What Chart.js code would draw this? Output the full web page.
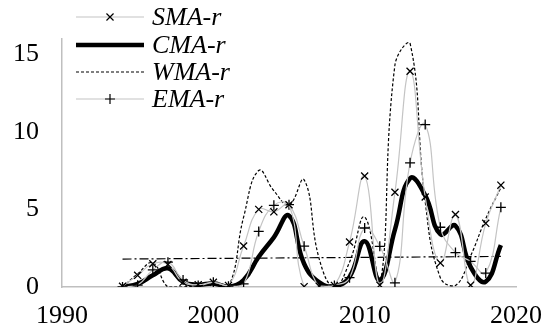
<!DOCTYPE html>
<html>
<head>
<meta charset="utf-8">
<script src="https://cdn.jsdelivr.net/npm/chart.js@4.4.1/dist/chart.umd.min.js"></script>
<style>
  body { margin: 0; background: #fff; }
  #wrap { width: 556px; height: 332px; }
</style>
</head>
<body>
<div id="wrap"><canvas id="maChart" width="556" height="332"></canvas></div>
<script>
// DATOS DE LA GRAFICA
const years = [1994, 1995, 1996, 1997, 1998, 1999, 2000, 2001, 2002, 2003, 2004, 2005, 2006,
               2007, 2008, 2009, 2010, 2011, 2012, 2013, 2014, 2015, 2016, 2017, 2018, 2019];
const smaR = [0.05, 0.75, 1.5, 1.45, 0.3, 0.15, 0.3, 0.1, 2.64, 5.0, 4.84, 5.3, 0.02,
              0.05, 0.1, 2.9, 7.15, 0.12, 6.1, 13.9, 5.8, 1.55, 4.67, 0.12, 4.1, 6.56];
const cmaR = [0.02, 0.2, 0.75, 1.2, 0.33, 0.15, 0.23, 0.02, 0.45, 1.95, 3.2, 4.6, 1.5,
              0.3, 0.05, 0.65, 2.95, 0.45, 3.7, 7.0, 5.9, 3.4, 3.95, 1.3, 0.35, 2.7];
const wmaR = [0.0, 0.85, 1.55, 0.0, 0.0, 0.1, 0.2, 0.0, 4.5, 7.5, 6.2, 5.3, 6.9,
              1.8, 0.0, 1.6, 4.5, 0.1, 14.3, 15.7, 5.5, 0.6, 0.1, 2.0, 4.4, 6.4];
const emaR = [0.0, 0.12, 1.1, 1.6, 0.45, 0.1, 0.3, 0.05, 0.2, 3.58, 5.26, 5.3, 2.63,
              0.0, 0.1, 0.6, 3.8, 2.62, 0.27, 8.0, 10.46, 3.85, 2.22, 1.65, 0.9, 5.13];
const trendYears = [1994, 2019];
const trendValues = [1.8, 1.97];
const seriesNames = ['SMA-r', 'CMA-r', 'WMA-r', 'EMA-r'];
const xTicks = [1990, 2000, 2010, 2020];
const yTicks = [0, 5, 10, 15];

const FONT = '"Liberation Serif", serif';
Chart.defaults.font.family = FONT;
Chart.defaults.font.size = 26;
Chart.defaults.color = '#000';

function toPoints(xs, ys) {
    return xs.map((x, i) => ({ x: x, y: ys[i] }));
}

// LEYENDA DIBUJADA DENTRO DEL AREA
const legendPlugin = {
    id: 'innerLegend',
    afterDraw(chart) {
        const ctx = chart.ctx;
        const rows = [17, 45, 72, 99];
        ctx.save();
        for (let i = 0; i < 4; i++) {
            const ds = chart.data.datasets[i];
            const y = rows[i];
            ctx.beginPath();
            ctx.strokeStyle = ds.borderColor;
            ctx.lineWidth = ds.borderWidth;
            ctx.setLineDash(ds.borderDash || []);
            ctx.moveTo(76, y);
            ctx.lineTo(144, y);
            ctx.stroke();
            ctx.setLineDash([]);
            if (ds.pointRadius > 0) {
                ctx.strokeStyle = '#000';
                Chart.helpers.drawPoint(ctx, {
                    pointStyle: ds.pointStyle,
                    radius: ds.pointRadius,
                    borderWidth: ds.pointBorderWidth
                }, 110, y);
            }
            ctx.font = 'italic 26px ' + FONT;
            ctx.fillStyle = '#000';
            ctx.textBaseline = 'middle';
            ctx.textAlign = 'left';
            ctx.fillText(seriesNames[i], 152, y + 1);
        }
        ctx.restore();
    }
};

const ctx = document.getElementById('maChart').getContext('2d');
const maChart = new Chart(ctx, {
    type: 'scatter',
    data: {
        datasets: [{
            label: seriesNames[0],
            data: toPoints(years, smaR),
            showLine: true,
            borderColor: '#c4c4c4',
            borderWidth: 1.2,
            tension: 0.45,
            pointStyle: 'crossRot',
            pointRadius: 5,
            pointBorderColor: '#000',
            pointBorderWidth: 1.3,
            order: 1
        }, {
            label: seriesNames[1],
            data: toPoints(years, cmaR),
            showLine: true,
            borderColor: '#000',
            borderWidth: 4.5,
            tension: 0.45,
            pointRadius: 0,
            order: 3
        }, {
            label: seriesNames[2],
            data: toPoints(years, wmaR),
            showLine: true,
            borderColor: '#000',
            borderWidth: 1.2,
            borderDash: [3, 2],
            tension: 0.45,
            pointRadius: 0,
            order: 4
        }, {
            label: seriesNames[3],
            data: toPoints(years, emaR),
            showLine: true,
            borderColor: '#c4c4c4',
            borderWidth: 1.2,
            tension: 0.45,
            pointStyle: 'cross',
            pointRadius: 5,
            pointBorderColor: '#000',
            pointBorderWidth: 1.3,
            order: 2
        }, {
            label: 'trend',
            data: toPoints(trendYears, trendValues),
            showLine: true,
            borderColor: '#000',
            borderWidth: 1.2,
            borderDash: [9, 3, 2, 3],
            pointRadius: 0,
            order: 5
        }]
    },
    options: {
        responsive: false,
        animation: false,
        layout: { padding: { top: 33, right: 34, left: 0, bottom: 0 } },
        plugins: {
            legend: { display: false },
            tooltip: { enabled: false }
        },
        scales: {
            x: {
                type: 'linear',
                min: xTicks[0],
                max: xTicks[xTicks.length - 1],
                grid: { display: false, drawTicks: false },
                border: { display: true, color: '#bfbfbf', width: 1.5 },
                afterBuildTicks: s => { s.ticks = xTicks.map(v => ({ value: v })); },
                afterFit: s => { s.height = 45; },
                ticks: { padding: 14, maxRotation: 0, font: { family: FONT, size: 26 }, callback: v => String(v) }
            },
            y: {
                min: 0,
                max: 16,
                grid: { display: false, drawTicks: false },
                border: { display: true, color: '#bfbfbf', width: 1.5 },
                afterBuildTicks: s => { s.ticks = yTicks.map(v => ({ value: v })); },
                afterFit: s => { s.width = 62; },
                ticks: { padding: 23, font: { family: FONT, size: 26 }, callback: v => String(v) }
            }
        }
    },
    plugins: [legendPlugin]
});
</script>
</body>
</html>
